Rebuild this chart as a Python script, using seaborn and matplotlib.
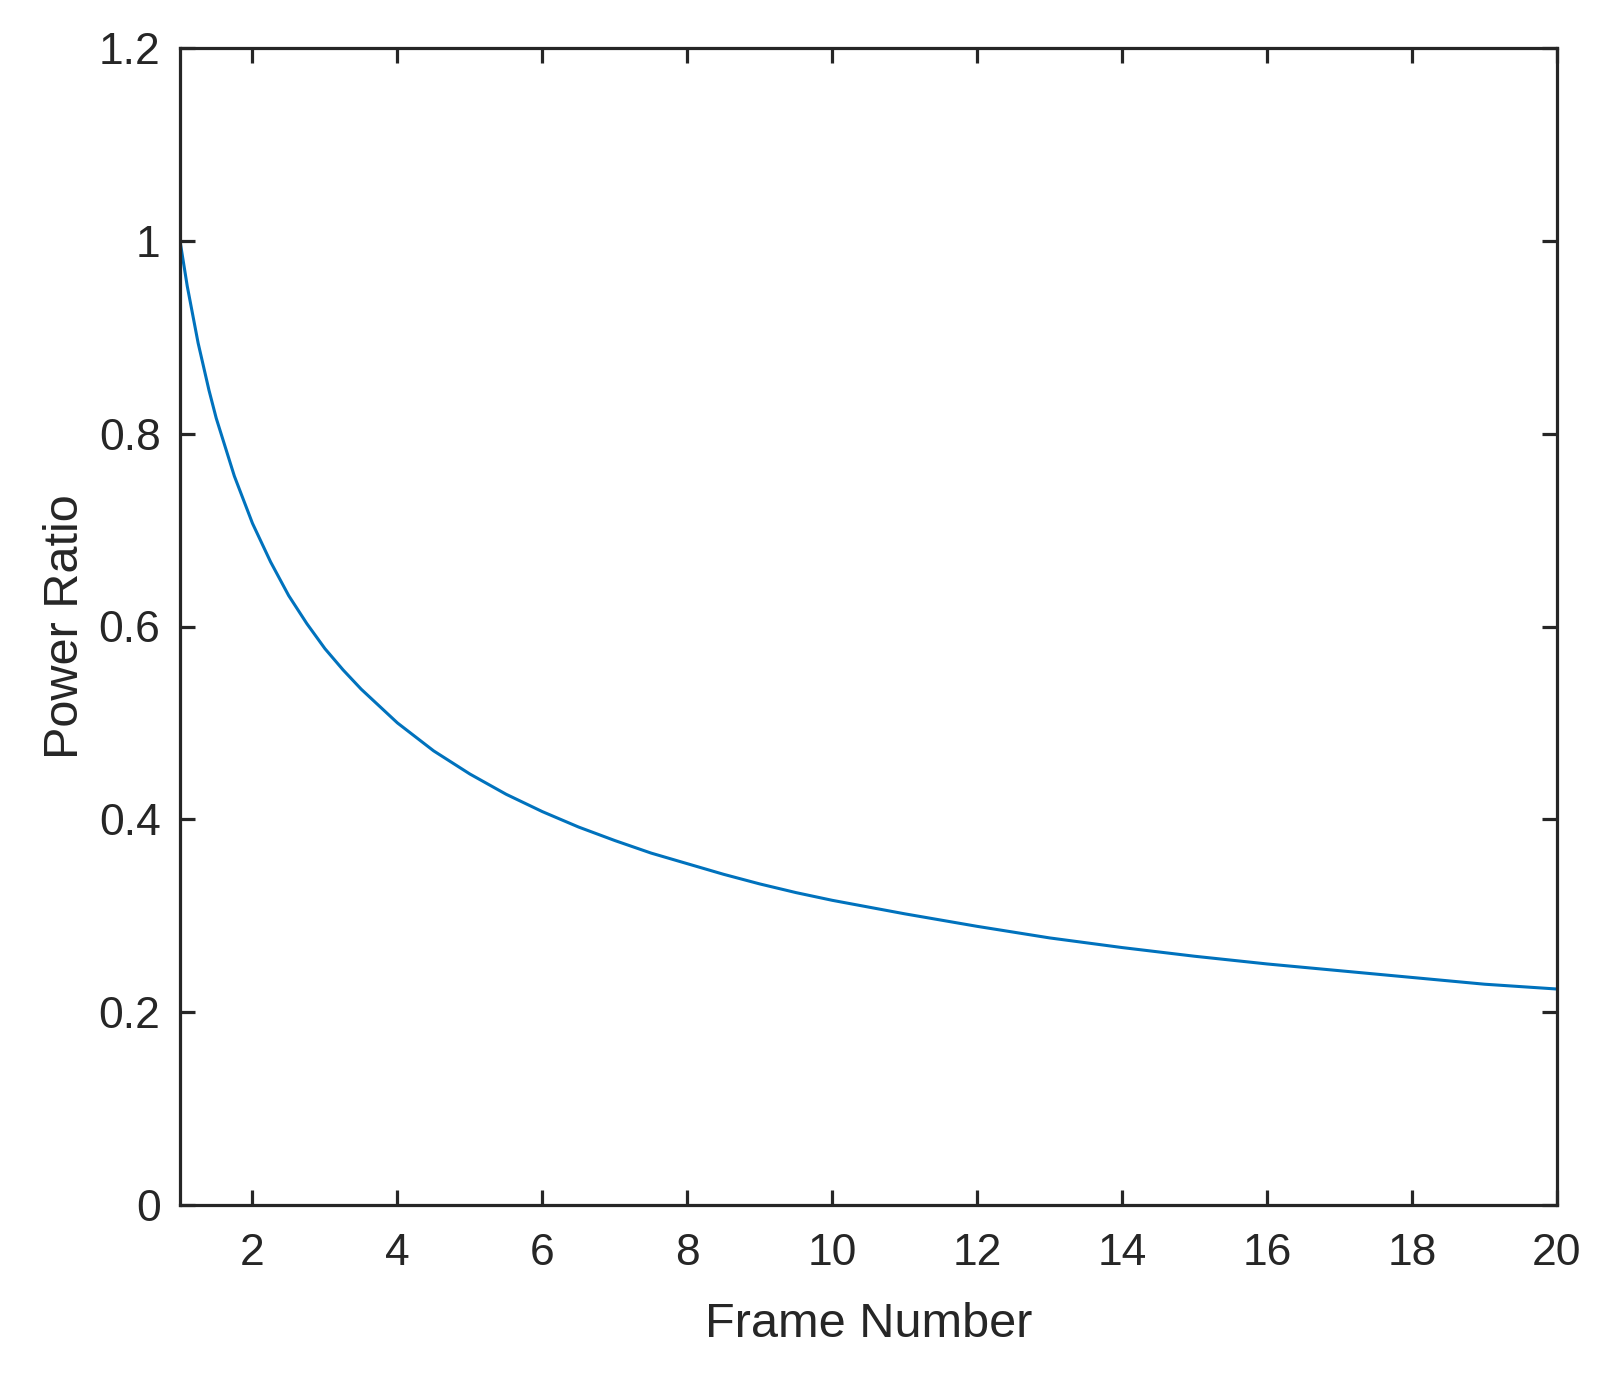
import matplotlib
matplotlib.use("Agg")
import matplotlib.pyplot as plt
import seaborn as sns
import pandas as pd

frame_number = [1, 1.1, 1.25, 1.4, 1.5, 1.75, 2, 2.25, 2.5, 2.75, 3, 3.25,
                3.5, 4, 4.5, 5, 5.5, 6, 6.5, 7, 7.5, 8, 8.5, 9, 9.5, 10,
                11, 12, 13, 14, 15, 16, 17, 18, 19, 20]
power_ratio = [1.0, 0.953, 0.894, 0.845, 0.816, 0.756, 0.707, 0.667, 0.632,
               0.603, 0.577, 0.555, 0.535, 0.5, 0.471, 0.447, 0.426, 0.408,
               0.392, 0.378, 0.365, 0.354, 0.343, 0.333, 0.324, 0.316, 0.302,
               0.289, 0.277, 0.267, 0.258, 0.25, 0.243, 0.236, 0.229, 0.224]
x_ticks = [2, 4, 6, 8, 10, 12, 14, 16, 18, 20]
y_ticks = [0, 0.2, 0.4, 0.6, 0.8, 1, 1.2]
y_ticklabels = ["0", "0.2", "0.4", "0.6", "0.8", "1", "1.2"]

df = pd.DataFrame({"Frame Number": frame_number, "Power Ratio": power_ratio})

sns.set_style("ticks")
plt.rcParams["font.family"] = ["Liberation Sans", "DejaVu Sans"]

W, H = 1623, 1392
fig = plt.figure(figsize=(W / 100, H / 100), dpi=100)
ax = fig.add_axes([180 / W, 1 - 1205 / H, (1557 - 180) / W, (1205 - 48) / H])

sns.lineplot(data=df, x="Frame Number", y="Power Ratio", ax=ax,
             color="#0072BD", linewidth=2.2)

ax.set_xlim(1, 20)
ax.set_ylim(0, 1.2)
ax.set_xticks(x_ticks)
ax.set_yticks(y_ticks)
ax.set_yticklabels(y_ticklabels)

edge = "#262626"
for s in ax.spines.values():
    s.set_visible(True)
    s.set_linewidth(2.3)
    s.set_color(edge)

ax.tick_params(direction="in", length=11, width=2.3, color=edge,
               labelsize=32, labelcolor=edge, top=True, right=True)
ax.tick_params(axis="x", pad=20)
ax.tick_params(axis="y", pad=14)

ax.set_xlabel("Frame Number", fontsize=35, color=edge, labelpad=20)
ax.set_ylabel("Power Ratio", fontsize=35, color=edge, labelpad=8)

fig.savefig("out.png", dpi=100, facecolor="white")
